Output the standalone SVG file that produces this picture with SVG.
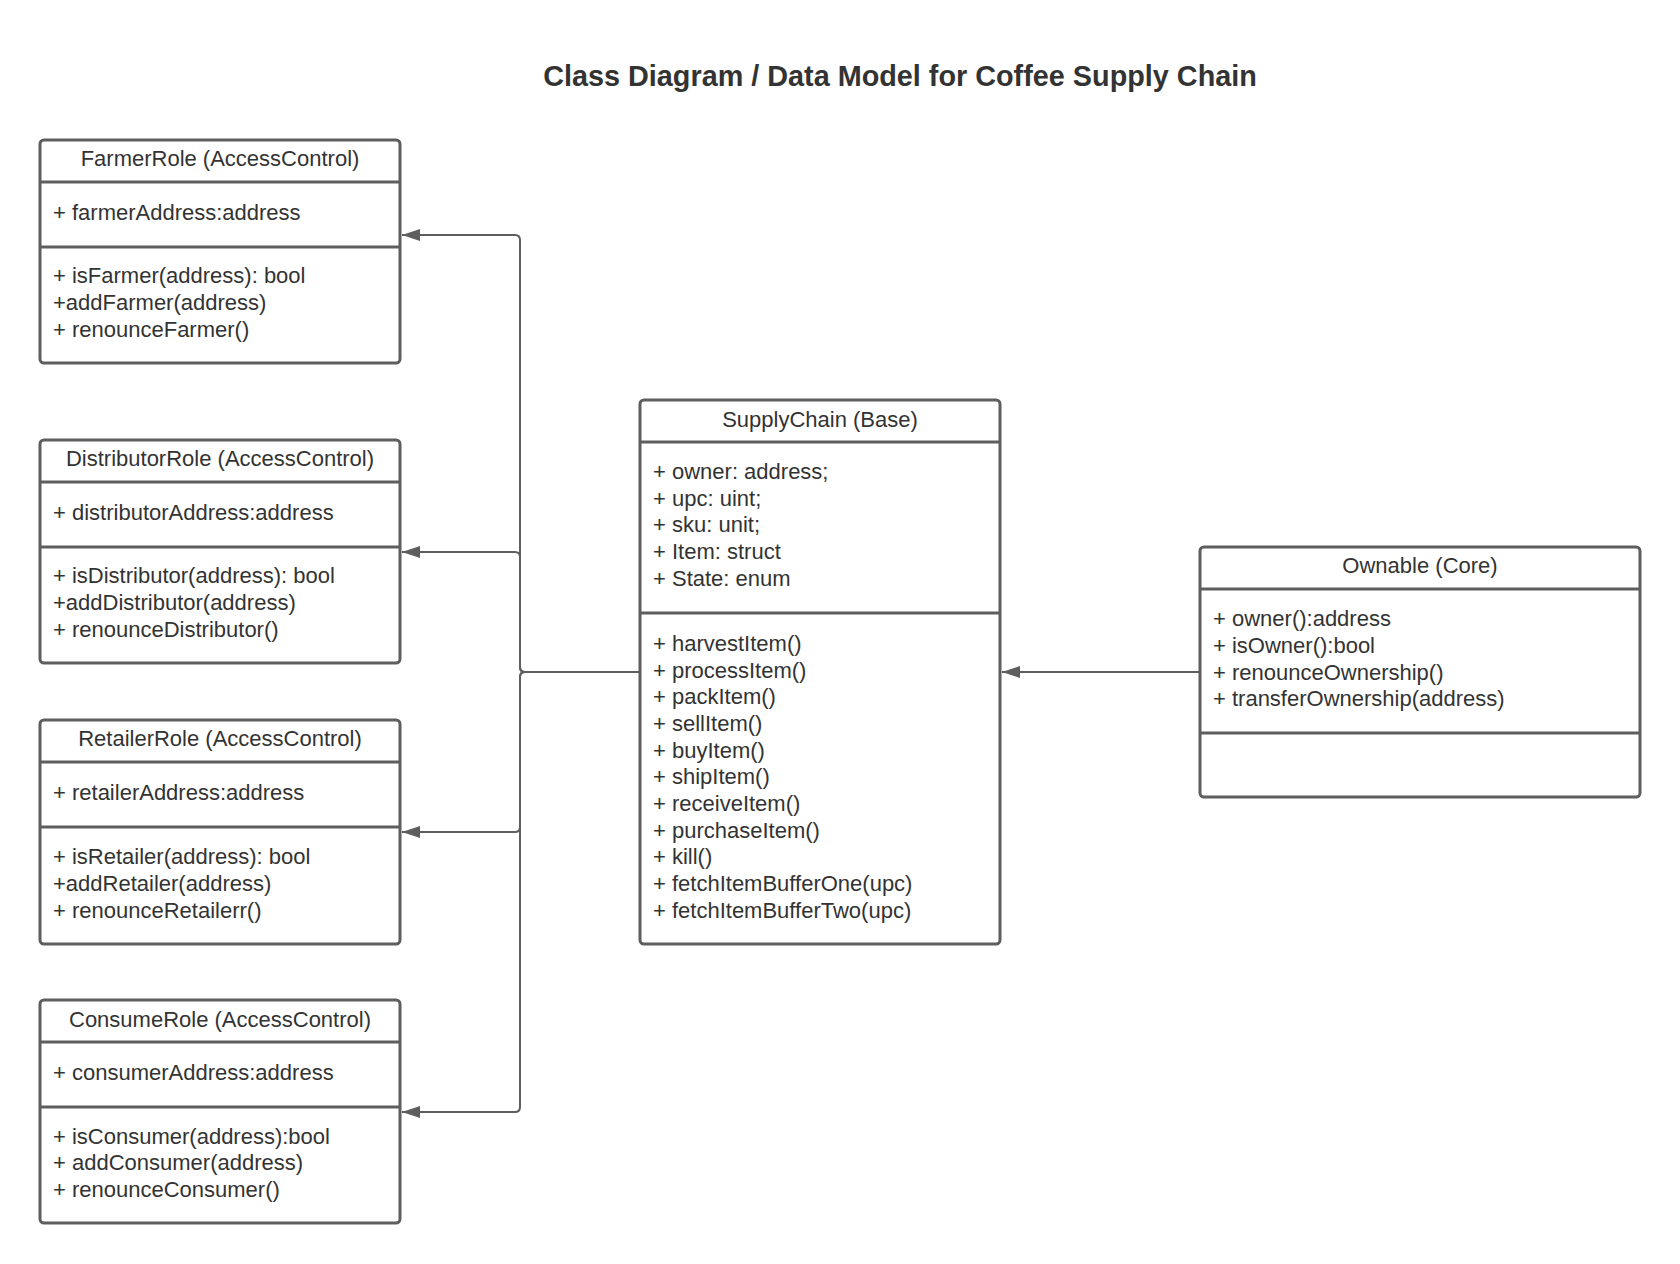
<svg xmlns="http://www.w3.org/2000/svg" width="1680" height="1264" viewBox="0 0 1680 1264">
<defs>
<style>
.box{fill:#ffffff;stroke:#5e5e5e;stroke-width:3}
.div{stroke:#5e5e5e;stroke-width:3}
.t{font-family:"Liberation Sans",Arial,sans-serif;font-size:22px;fill:#333333}
.c{text-anchor:middle}
.title{font-family:"Liberation Sans",Arial,sans-serif;font-size:28.8px;font-weight:bold;fill:#333333;text-anchor:middle}
.conn{fill:none;stroke:#5e5e5e;stroke-width:2}
</style>
<marker id="arr" markerUnits="userSpaceOnUse" markerWidth="18" markerHeight="12" viewBox="0 0 18 12" refX="18" refY="6" orient="auto">
<path d="M0,0 L18,6 L0,12 z" fill="#5e5e5e"/>
</marker>
</defs>
<rect width="1680" height="1264" fill="#ffffff"/>
<text class="title" x="900" y="86">Class Diagram / Data Model for Coffee Supply Chain</text>

<g id="connectors">
<path class="conn" d="M640,672 H525 Q520,672 520,667 V240 Q520,235 515,235 H402" marker-end="url(#arr)"/>
<path class="conn" d="M640,672 H525 Q520,672 520,667 V557 Q520,552 515,552 H402" marker-end="url(#arr)"/>
<path class="conn" d="M640,672 H525 Q520,672 520,677 V827 Q520,832 515,832 H402" marker-end="url(#arr)"/>
<path class="conn" d="M640,672 H525 Q520,672 520,677 V1107 Q520,1112 515,1112 H402" marker-end="url(#arr)"/>
<path class="conn" d="M1200,672 H1002" marker-end="url(#arr)"/>
</g>

<g id="farmer">
<rect class="box" x="40" y="140" width="360" height="223" rx="4"/>
<line class="div" x1="40" y1="182" x2="400" y2="182"/>
<line class="div" x1="40" y1="247" x2="400" y2="247"/>
<text class="t c" x="220" y="166">FarmerRole (AccessControl)</text>
<text class="t" x="53" y="220">+ farmerAddress:address</text>
<text class="t" x="53" y="283">+ isFarmer(address): bool</text>
<text class="t" x="53" y="310">+addFarmer(address)</text>
<text class="t" x="53" y="337">+ renounceFarmer()</text>
</g>

<g id="distributor">
<rect class="box" x="40" y="440" width="360" height="223" rx="4"/>
<line class="div" x1="40" y1="482" x2="400" y2="482"/>
<line class="div" x1="40" y1="547" x2="400" y2="547"/>
<text class="t c" x="220" y="466">DistributorRole (AccessControl)</text>
<text class="t" x="53" y="520">+ distributorAddress:address</text>
<text class="t" x="53" y="583">+ isDistributor(address): bool</text>
<text class="t" x="53" y="610">+addDistributor(address)</text>
<text class="t" x="53" y="637">+ renounceDistributor()</text>
</g>

<g id="retailer">
<rect class="box" x="40" y="720" width="360" height="224" rx="4"/>
<line class="div" x1="40" y1="762" x2="400" y2="762"/>
<line class="div" x1="40" y1="827" x2="400" y2="827"/>
<text class="t c" x="220" y="746">RetailerRole (AccessControl)</text>
<text class="t" x="53" y="800">+ retailerAddress:address</text>
<text class="t" x="53" y="864">+ isRetailer(address): bool</text>
<text class="t" x="53" y="891">+addRetailer(address)</text>
<text class="t" x="53" y="918">+ renounceRetailerr()</text>
</g>

<g id="consumer">
<rect class="box" x="40" y="1000" width="360" height="223" rx="4"/>
<line class="div" x1="40" y1="1042" x2="400" y2="1042"/>
<line class="div" x1="40" y1="1107" x2="400" y2="1107"/>
<text class="t c" x="220" y="1027">ConsumeRole (AccessControl)</text>
<text class="t" x="53" y="1080">+ consumerAddress:address</text>
<text class="t" x="53" y="1144">+ isConsumer(address):bool</text>
<text class="t" x="53" y="1170">+ addConsumer(address)</text>
<text class="t" x="53" y="1197">+ renounceConsumer()</text>
</g>

<g id="supplychain">
<rect class="box" x="640" y="400" width="360" height="544" rx="4"/>
<line class="div" x1="640" y1="442" x2="1000" y2="442"/>
<line class="div" x1="640" y1="613" x2="1000" y2="613"/>
<text class="t c" x="820" y="427">SupplyChain (Base)</text>
<text class="t" x="653" y="479">+ owner: address;</text>
<text class="t" x="653" y="506">+ upc: uint;</text>
<text class="t" x="653" y="532">+ sku: unit;</text>
<text class="t" x="653" y="559">+ Item: struct</text>
<text class="t" x="653" y="586">+ State: enum</text>
<text class="t" x="653" y="651">+ harvestItem()</text>
<text class="t" x="653" y="678">+ processItem()</text>
<text class="t" x="653" y="704">+ packItem()</text>
<text class="t" x="653" y="731">+ sellItem()</text>
<text class="t" x="653" y="758">+ buyItem()</text>
<text class="t" x="653" y="784">+ shipItem()</text>
<text class="t" x="653" y="811">+ receiveItem()</text>
<text class="t" x="653" y="838">+ purchaseItem()</text>
<text class="t" x="653" y="864">+ kill()</text>
<text class="t" x="653" y="891">+ fetchItemBufferOne(upc)</text>
<text class="t" x="653" y="918">+ fetchItemBufferTwo(upc)</text>
</g>

<g id="ownable">
<rect class="box" x="1200" y="547" width="440" height="250" rx="4"/>
<line class="div" x1="1200" y1="589" x2="1640" y2="589"/>
<line class="div" x1="1200" y1="733" x2="1640" y2="733"/>
<text class="t c" x="1420" y="573">Ownable (Core)</text>
<text class="t" x="1213" y="626">+ owner():address</text>
<text class="t" x="1213" y="653">+ isOwner():bool</text>
<text class="t" x="1213" y="680">+ renounceOwnership()</text>
<text class="t" x="1213" y="706">+ transferOwnership(address)</text>
</g>
</svg>
